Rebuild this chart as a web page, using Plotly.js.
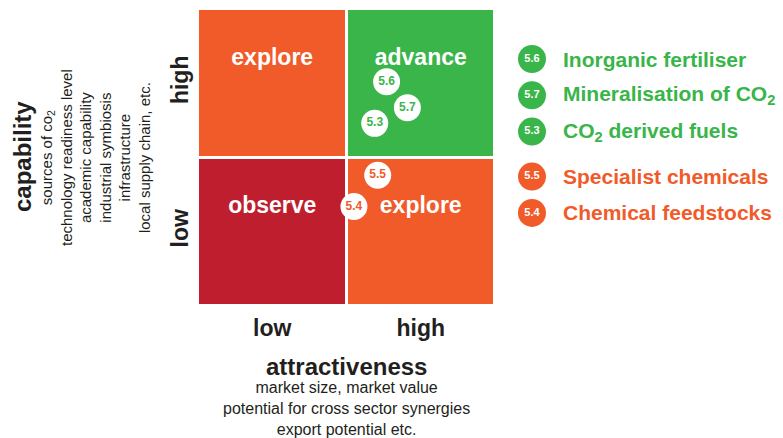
<!DOCTYPE html>
<html>
<head>
<meta charset="utf-8">
<script src="https://cdn.plot.ly/plotly-3.0.1.min.js"></script>
<style>html,body{margin:0;padding:0;background:#fff;}#chart{width:783px;height:438px;}</style>
</head>
<body>
<div id="chart"></div>
<script>
// ---- data ----
const attractivenessCats = ['low', 'high'];
const capabilityCats = ['low', 'high'];
const quadrantLabels = [['observe', 'explore'], ['explore', 'advance']]; // rows: capability low, high
const quadrantZ = [[0, 1], [1, 2]];
const projectIds = ['5.6', '5.7', '5.3', '5.5', '5.4'];
const projectNames = ['Inorganic fertiliser', 'Mineralisation of CO<sub>2</sub>', 'CO<sub>2</sub> derived fuels', 'Specialist chemicals', 'Chemical feedstocks'];
const attractiveness = [1.27, 1.41, 1.19, 1.21, 1.05];
const capability = [1.51, 1.335, 1.23, 0.88, 0.67];
const projectQuadrant = ['advance', 'advance', 'advance', 'explore', 'explore'];
const capabilityNotes = ['sources of co<sub>2</sub>', 'technology readiness level', 'academic capability', 'industrial symbiosis', 'infrastructure', 'local supply chain, etc.'];
const attractivenessNotes = ['market size, market value', 'potential for cross sector synergies', 'export potential etc.'];

// ---- style ----
const RED = '#BE1E2D', ORANGE = '#F15A29', GREEN = '#39B54A', INK = '#231F20';
const FONT = '"Liberation Sans", Arial, Helvetica, sans-serif';
const quadColor = {observe: RED, explore: ORANGE, advance: GREEN};

// quadrant heatmap
const heat = {
  type: 'heatmap', x: [0.5, 1.5], y: [0.5, 1.5], z: quadrantZ,
  zmin: 0, zmax: 2,
  colorscale: [[0, RED], [0.3333, RED], [0.3334, ORANGE], [0.6666, ORANGE], [0.6667, GREEN], [1, GREEN]],
  showscale: false, xgap: 3, ygap: 3, hoverinfo: 'skip'
};

// quadrant names
const qx = [], qy = [], qt = [];
quadrantLabels.forEach((row, r) => row.forEach((lab, c) => { qx.push(c + 0.5); qy.push(r + 0.665); qt.push('<b>' + lab + '</b>'); }));
const qText = {
  type: 'scatter', mode: 'text', x: qx, y: qy, text: qt,
  textfont: {family: FONT, size: 23, color: '#ffffff'}, hoverinfo: 'skip', cliponaxis: false
};

// project markers
const pts = {
  type: 'scatter', mode: 'markers+text', x: attractiveness, y: capability,
  text: projectIds.map(t => '<b>' + t + '</b>'), textposition: 'middle center',
  marker: {size: 27, color: '#ffffff', line: {width: 0}},
  textfont: {family: FONT, size: 12, color: projectQuadrant.map(q => quadColor[q])},
  cliponaxis: false, hoverinfo: 'skip'
};

// custom legend on second axes
const legRows = projectQuadrant.map((q, i) => i + (q === 'explore' ? 0.24 : 0));
const legMarkerX = 37, legTextX = 66;
const leg = {
  type: 'scatter', mode: 'markers+text', xaxis: 'x2', yaxis: 'y2',
  x: projectIds.map(() => legMarkerX), y: legRows,
  text: projectIds.map(t => '<b>' + t + '</b>'), textposition: 'middle center',
  marker: {size: 28, color: projectQuadrant.map(q => quadColor[q]), line: {width: 0}},
  textfont: {family: FONT, size: 11, color: '#ffffff'},
  cliponaxis: false, hoverinfo: 'skip'
};

const ML = 198, MT = 9, MB = 132, W = 783, H = 438;
const plotW = W - ML, plotH = H - MT - MB;
const quadW = 297;
const px2x = px => (px - ML) / plotW;
const py2y = py => (H - MB - py) / plotH;
const rowPx = 36.3, row0Px = 59;

const annotations = [];
projectNames.forEach((n, i) => annotations.push({
  xref: 'x2', yref: 'y2', x: legTextX, y: legRows[i], xanchor: 'left', yanchor: 'middle',
  text: '<b>' + n + '</b>', showarrow: false,
  font: {family: FONT, size: 21, color: quadColor[projectQuadrant[i]]}
}));
annotations.push({
  xref: 'paper', yref: 'paper', x: px2x(22), y: py2y(157), xanchor: 'center', yanchor: 'middle',
  textangle: -90, text: '<b>capability</b>', showarrow: false,
  font: {family: FONT, size: 24, color: INK}
});
annotations.push({
  xref: 'paper', yref: 'paper', x: px2x(95), y: py2y(157), xanchor: 'center', yanchor: 'middle',
  textangle: -90, text: capabilityNotes.join('<br>'), showarrow: false,
  font: {family: FONT, size: 15, color: INK}
});
annotations.push({
  xref: 'paper', yref: 'paper', x: px2x(346.5), y: py2y(366), xanchor: 'center', yanchor: 'middle',
  text: '<b>attractiveness</b>', showarrow: false,
  font: {family: FONT, size: 24, color: INK}
});
annotations.push({
  xref: 'paper', yref: 'paper', x: px2x(346.5), y: py2y(408.5), xanchor: 'center', yanchor: 'middle',
  text: attractivenessNotes.join('<br>'), showarrow: false,
  font: {family: FONT, size: 16, color: INK}
});

const axBase = {showgrid: false, zeroline: false, showline: false, ticks: '', fixedrange: true};
const layout = {
  width: W, height: H,
  margin: {l: ML, r: 0, t: MT, b: MB, pad: 0},
  paper_bgcolor: '#ffffff', plot_bgcolor: '#ffffff',
  showlegend: false,
  font: {family: FONT, color: INK},
  xaxis: Object.assign({}, axBase, {
    domain: [0, quadW / plotW], range: [0, 2],
    tickvals: [0.5, 1.5], ticktext: attractivenessCats.map(t => '<b>' + t + '</b>'),
    tickfont: {family: FONT, size: 23, color: INK}, ticklabelstandoff: 6
  }),
  yaxis: Object.assign({}, axBase, {
    range: [0, 2], domain: [0, 1],
    tickvals: [0.5, 1.5], ticktext: capabilityCats.map(t => '<b>' + t + '</b>'),
    tickangle: -90, tickfont: {family: FONT, size: 23, color: INK}, ticklabelstandoff: 4
  }),
  xaxis2: Object.assign({}, axBase, {
    domain: [quadW / plotW, 1], range: [0, plotW - quadW], showticklabels: false, anchor: 'y2'
  }),
  yaxis2: Object.assign({}, axBase, {
    domain: [0, 1], anchor: 'x2', showticklabels: false,
    range: [(H - MB - row0Px) / rowPx, -(row0Px - MT) / rowPx]
  }),
  annotations: annotations
};

Plotly.newPlot('chart', [heat, qText, pts, leg], layout, {displayModeBar: false, staticPlot: true});
</script>
</body>
</html>
